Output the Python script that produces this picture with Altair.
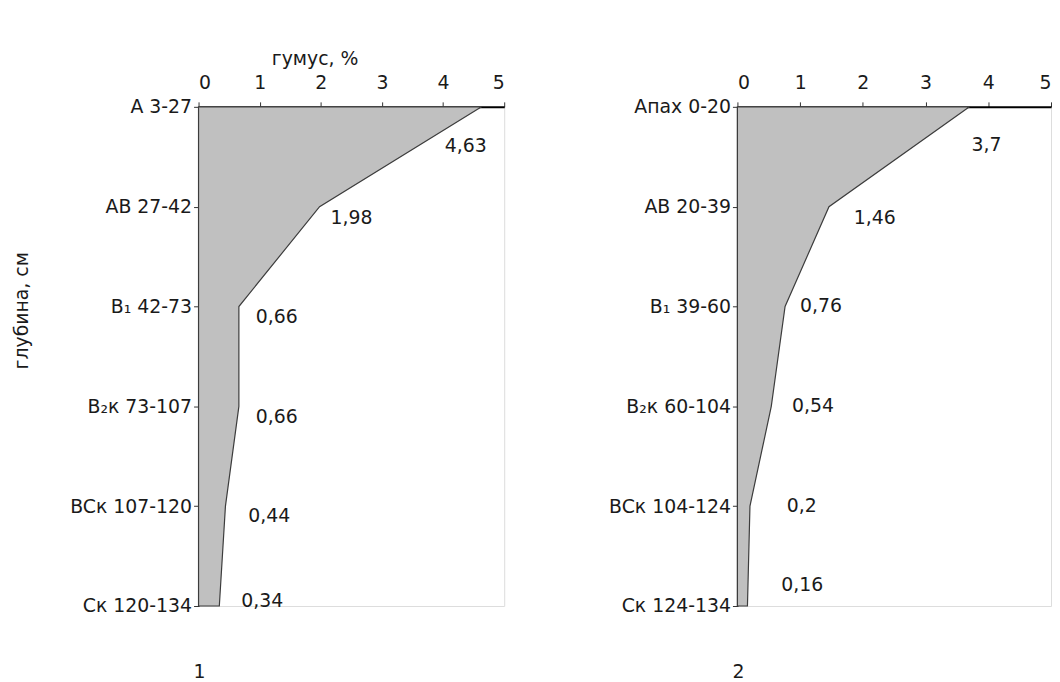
import altair as alt
import pandas as pd

# ---- data ----
horizons_1 = ["A 3-27", "AB 27-42", "B₁ 42-73", "B₂к 73-107", "BCк 107-120", "Cк 120-134"]
humus_1 = [4.63, 1.98, 0.66, 0.66, 0.44, 0.34]

horizons_2 = ["Aпах 0-20", "AB 20-39", "B₁ 39-60", "B₂к 60-104", "BCк 104-124", "Cк 124-134"]
humus_2 = [3.7, 1.46, 0.76, 0.54, 0.2, 0.16]

x_ticks = [0, 1, 2, 3, 4, 5]
panel_names = ["1", "2"]
x_title = "гумус, %"
y_title = "глубина, см"

# ---- styling (label nudges in px, per row) ----
nudge_1 = [(-37, 40), (11, 11), (17, 11), (17, 11), (23, 10), (22, -5)]
nudge_2 = [(2, 38), (25, 11), (15, 0), (21, 0), (37, 0), (34, -21)]

FONT = "DejaVu Sans"
FS = 19
FILL = "#c0c0c0"
EDGE = "#3c3c3c"
INK = "#1a1a1a"


def panel(horizons, humus, name, width, with_titles, nudges):
    n = len(horizons)
    df = pd.DataFrame({"idx": list(range(n)), "h": humus})
    label_expr = "[" + ",".join("'%s'" % s for s in horizons) + "][datum.value]"

    xkw = dict(orient="top", values=x_ticks, grid=False, tickSize=5, labelPadding=9,
               domainColor="#000000", domainWidth=2, tickColor="#333333",
               labelFont=FONT, labelFontSize=FS, labelColor=INK, labelAngle=0)
    ykw = dict(orient="left", values=list(range(n)), labelExpr=label_expr, grid=False,
               tickSize=5, labelPadding=2, domainColor="#222222", domainWidth=2,
               tickColor="#333333", labelFont=FONT, labelFontSize=FS, labelColor=INK)
    if with_titles:
        xkw.update(title=x_title, titleFont=FONT, titleFontSize=FS, titleFontWeight="normal",
                   titleColor=INK, titlePadding=6, titleX=117)
        ykw.update(title=y_title, titleFont=FONT, titleFontSize=FS, titleFontWeight="normal",
                   titleColor=INK, titleX=-168, titleY=205, titleAngle=270)
    else:
        xkw.update(title="")
        ykw.update(title="")

    xs = alt.Scale(domain=[0, 5], nice=False)
    ys = alt.Scale(domain=[0, n - 1], reverse=True, nice=False, zero=False)

    base = alt.Chart(df).encode(
        x=alt.X("h:Q", scale=xs, axis=alt.Axis(**xkw)),
        y=alt.Y("idx:Q", scale=ys, axis=alt.Axis(**ykw)),
    )
    area = base.mark_area(orient="horizontal", color=FILL, stroke=EDGE, strokeWidth=1.2,
                          fillOpacity=1)

    txt = base.transform_calculate(txt="replace(toString(datum.h), '.', ',')")

    layers = [area]
    for i, (dx, dy) in enumerate(nudges):
        layers.append(
            txt.transform_filter("datum.idx == %d" % i).mark_text(
                align="left", baseline="middle", dx=dx, dy=dy,
                font=FONT, fontSize=FS, color=INK
            ).encode(text="txt:N")
        )
    return alt.layer(*layers).properties(
        width=width, height=503,
        title=alt.TitleParams(name, orient="bottom", anchor="start", frame="group",
                              offset=48, dx=-5, font=FONT, fontSize=FS,
                              fontWeight="normal", color=INK),
    )


left = panel(horizons_1, humus_1, panel_names[0], 308, True, nudge_1)
right = panel(horizons_2, humus_2, panel_names[1], 316, False, nudge_2)

chart = alt.hconcat(left, right, spacing=235, bounds="flush").properties(
    padding={"left": 4, "top": 38, "right": 0, "bottom": 0}
).configure_view(strokeWidth=0, stroke="transparent").configure(background="#ffffff")

chart.save("out.html", embed_options={"renderer": "svg", "actions": False})
